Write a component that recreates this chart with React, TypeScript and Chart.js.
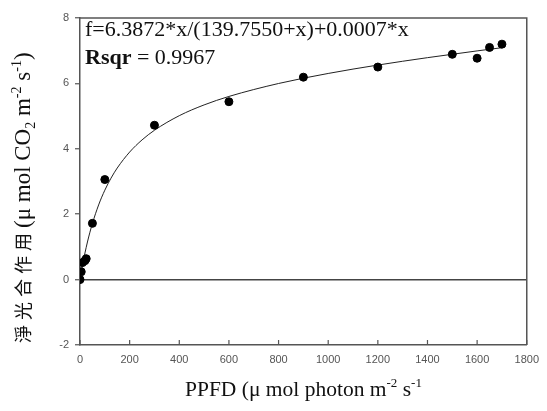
import React, { useEffect, useRef } from 'react';
import { Chart, registerables } from 'chart.js';

Chart.register(...registerables);

// Measured data (PPFD vs net photosynthesis)
const ppfd = [0, 5, 10, 20, 25, 50, 100, 300, 600, 900, 1200, 1500, 1600, 1650, 1700];
const netPhoto = [0, 0.24, 0.52, 0.58, 0.64, 1.72, 3.06, 4.72, 5.44, 6.19, 6.5, 6.89, 6.77, 7.1, 7.2];

// Fitted curve
const fitX = [0, 5, 10, 20, 30, 40, 50, 75, 100, 125, 150, 200, 250, 300, 400, 500, 600, 800, 1000, 1200, 1400, 1600, 1700];
const fitY = [0, 0.224, 0.434, 0.814, 1.15, 1.449, 1.718, 2.283, 2.734, 3.103, 3.412, 3.9, 4.272, 4.567, 5.013, 5.342, 5.601, 5.997, 6.304, 6.561, 6.787, 6.994, 7.092];

const xTicks = [0, 200, 400, 600, 800, 1000, 1200, 1400, 1600, 1800];
const yTicks = [-2, 0, 2, 4, 6, 8];

const equationText = 'f=6.3872*x/(139.7550+x)+0.0007*x';
const rsqrLabel = 'Rsqr';
const rsqrValue = ' = 0.9967';
const yTitleCJK = ['\u6de8', '\u5149', '\u5408', '\u4f5c', '\u7528'];

const SERIF = '"Liberation Serif", "Times New Roman", serif';
const SANS = '"Liberation Sans", Arial, sans-serif';
const CJK = '"Noto Sans CJK TC", "Noto Sans CJK SC", sans-serif';

type Seg = { t: string; size: number; dy?: number; weight?: string; family?: string; adv?: number };

function drawRich(ctx: CanvasRenderingContext2D, x: number, y: number, segs: Seg[], center = false) {
  const fontOf = (s: Seg) => `${s.weight || 'normal'} ${s.size}px ${s.family || SERIF}`;
  const width = (s: Seg) => {
    ctx.font = fontOf(s);
    return s.adv !== undefined ? s.adv : ctx.measureText(s.t).width;
  };
  let total = 0;
  for (const s of segs) total += width(s);
  let cx = center ? x - total / 2 : x;
  for (const s of segs) {
    const w = width(s);
    ctx.font = fontOf(s);
    ctx.fillText(s.t, cx, y + (s.dy || 0));
    cx += w;
  }
}

const decorPlugin = {
  id: 'decor',
  afterDraw(chart: any) {
    const ctx: CanvasRenderingContext2D = chart.ctx;
    const { left, right, top, bottom } = chart.chartArea;
    const xs = chart.scales.x;
    ctx.save();
    // frame top/right
    ctx.strokeStyle = '#555';
    ctx.lineWidth = 1.5;
    ctx.beginPath();
    ctx.moveTo(left, top);
    ctx.lineTo(right, top);
    ctx.lineTo(right, bottom);
    ctx.stroke();
    // inward x ticks
    ctx.lineWidth = 1.2;
    for (const v of xTicks) {
      const px = xs.getPixelForValue(v);
      ctx.beginPath();
      ctx.moveTo(px, bottom);
      ctx.lineTo(px, bottom - 5);
      ctx.stroke();
    }
    // equation text
    ctx.fillStyle = '#111';
    ctx.textBaseline = 'alphabetic';
    ctx.textAlign = 'left';
    drawRich(ctx, left + 5, top + 18, [{ t: equationText, size: 22 }]);
    drawRich(ctx, left + 5, top + 46, [
      { t: rsqrLabel, size: 22, weight: 'bold' },
      { t: rsqrValue, size: 22 },
    ]);
    // x title
    drawRich(ctx, 185, 396, [
      { t: 'PPFD (\u03bc mol photon m', size: 21.5 },
      { t: '-2', size: 13, dy: -9 },
      { t: ' s', size: 21.5 },
      { t: '-1', size: 13, dy: -9 },
    ]);
    // y title (reads bottom to top)
    ctx.translate(30, 343);
    ctx.rotate(-Math.PI / 2);
    drawRich(ctx, 0, 0, [
      ...yTitleCJK.map((c) => ({ t: c, size: 18, family: CJK, adv: 23 })),
      { t: '(\u03bc mol CO', size: 23 },
      { t: '2', size: 14, dy: 5 },
      { t: ' m', size: 23 },
      { t: '-2', size: 14, dy: -9 },
      { t: ' s', size: 23 },
      { t: '-1', size: 14, dy: -9 },
      { t: ')', size: 23 },
    ]);
    ctx.restore();
  },
};

export default function App() {
  const ref = useRef<HTMLCanvasElement | null>(null);
  useEffect(() => {
    if (!ref.current) return;
    const chart = new Chart(ref.current, {
      type: 'scatter',
      data: {
        datasets: [
          {
            label: 'fit',
            data: fitX.map((x, i) => ({ x, y: fitY[i] })),
            showLine: true,
            borderColor: '#222',
            borderWidth: 1,
            pointRadius: 0,
            cubicInterpolationMode: 'monotone',
            order: 2,
          } as any,
          {
            label: 'measured',
            data: ppfd.map((x, i) => ({ x, y: netPhoto[i] })),
            backgroundColor: '#000',
            borderColor: '#000',
            pointRadius: 4,
            order: 1,
          },
        ],
      },
      options: {
        responsive: false,
        animation: false,
        layout: { padding: { left: 0, top: 18, right: 14, bottom: 0 } },
        plugins: { legend: { display: false }, tooltip: { enabled: false }, title: { display: false } },
        scales: {
          x: {
            type: 'linear',
            min: 0,
            max: 1800,
            afterBuildTicks: (s: any) => { s.ticks = xTicks.map((v) => ({ value: v })); },
            afterFit: (s: any) => { s.height = 66; },
            grid: { display: true, drawOnChartArea: false, drawTicks: false },
            border: { display: true, color: '#555', width: 1.5 },
            ticks: {
              padding: 8,
              color: '#555',
              font: { family: SANS, size: 11 },
              maxRotation: 0,
              callback: (v: any) => String(v),
            },
          },
          y: {
            type: 'linear',
            min: -2,
            max: 8,
            afterBuildTicks: (s: any) => { s.ticks = yTicks.map((v) => ({ value: v })); },
            afterFit: (s: any) => { s.width = 80; },
            grid: {
              drawTicks: true,
              tickLength: 5,
              tickColor: '#555',
              tickWidth: 1.2,
              lineWidth: 1.5,
              color: (c: any) => (c.tick && c.tick.value === 0 ? '#444' : 'rgba(0,0,0,0)'),
            },
            border: { display: true, color: '#555', width: 1.5 },
            ticks: { padding: 6, color: '#555', font: { family: SANS, size: 11 }, callback: (v: any) => String(v) },
          },
        },
      },
      plugins: [decorPlugin],
    });
    return () => chart.destroy();
  }, []);
  return (
    <div style={{ position: 'fixed', left: 0, top: 0, width: 547, height: 411, background: '#fff' }}>
      <canvas ref={ref} width={547} height={411} style={{ width: 547, height: 411 }} />
    </div>
  );
}
